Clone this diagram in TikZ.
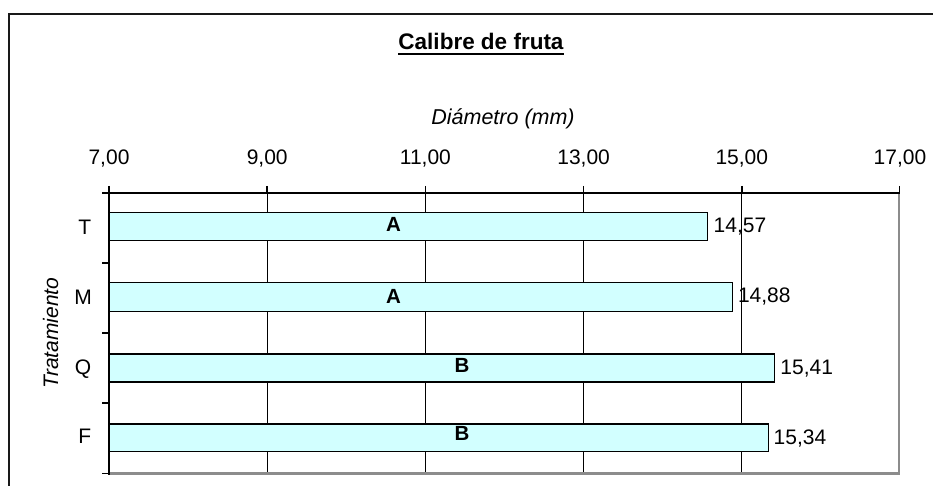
\documentclass[tikz,border=0pt]{standalone}
\usepackage{fontspec}
\setmainfont{Liberation Sans}
\definecolor{barfill}{RGB}{210,255,255}
\definecolor{edgegray}{RGB}{140,140,140}
\begin{document}
\begin{tikzpicture}[x=1pt,y=-1pt,
  lbl/.style={inner sep=0pt, font=\fontsize{21}{21}\selectfont},
  letterlbl/.style={inner sep=0pt, font=\fontsize{20.5}{20.5}\selectfont\bfseries},
  barbox/.style={draw=black, line width=1.3pt, fill=barfill},
  gridline/.style={line width=1.3pt, black},
  axisline/.style={line width=2.4pt, black},
  tickline/.style={line width=1.5pt, black},
  edgeline/.style={line width=2.4pt, edgegray},
  frameline/.style={line width=2.6pt, black!90}]
\useasboundingbox (0,0) rectangle (933,486);
\fill[white] (0,0) rectangle (933,486);
% outer frame
\draw[frameline] (9,486) -- (9,14) -- (933,14);
% title
\node[inner sep=0pt, anchor=base, font=\fontsize{22.5}{22.5}\selectfont\bfseries] (title) at (481,50) {Calibre de fruta};
\draw[line width=2pt] ([yshift=-4.5pt]title.base west) -- ([yshift=-4.5pt]title.base east);
% axis title
\node[inner sep=0pt, anchor=base, font=\fontsize{21.5}{21.5}\selectfont\itshape] (xtitle) at (503,125) {Diámetro (mm)};
\node[inner sep=0pt, anchor=base, rotate=90, font=\fontsize{21}{21}\selectfont\itshape] (ytitle) at (58,333) {Tratamiento};
% gridlines
\foreach \x in {267.2,425.4,583.6,741.8}
  \draw[gridline] (\x,193) -- (\x,473);
% gray edges
\draw[edgeline] (899,193) -- (899,473.5) -- (109,473.5);
% bars
\draw[barbox] (109,212.7) rectangle (707.8,240.7);
\draw[barbox] (109,282.7) rectangle (732.3,311.7);
\draw[barbox] (109,354) rectangle (774.2,382);
\draw[barbox] (109,424) rectangle (768.7,451.7);
% axes
\draw[axisline] (109,193) -- (900,193);
\draw[axisline] (109,192) -- (109,474.5);
\foreach \x in {109,267.2,425.4,583.6,741.8,899.5}
  \draw[tickline] (\x,186) -- (\x,193);
\foreach \y in {193,263,333,403,473.5}
  \draw[tickline] (102,\y) -- (109,\y);
% tick labels
\node[lbl, anchor=base] (t7) at (109,165) {7,00};
\node[lbl, anchor=base] (t9) at (267.2,165) {9,00};
\node[lbl, anchor=base] (t11) at (425.4,165) {11,00};
\node[lbl, anchor=base] (t13) at (583.6,165) {13,00};
\node[lbl, anchor=base] (t15) at (741.8,165) {15,00};
\node[lbl, anchor=base] (t17) at (900,165) {17,00};
% category labels
\node[lbl, anchor=base east] (cT) at (91.5,234) {T};
\node[lbl, anchor=base east] (cM) at (92,304) {M};
\node[lbl, anchor=base east] (cQ) at (91.5,374.5) {Q};
\node[lbl, anchor=base east] (cF) at (91.5,443.5) {F};
% group letters
\node[letterlbl, anchor=base] (gT) at (393.4,231) {A};
\node[letterlbl, anchor=base] (gM) at (393.4,303.3) {A};
\node[letterlbl, anchor=base] (gQ) at (462,372.7) {B};
\node[letterlbl, anchor=base] (gF) at (462,440) {B};
% value labels
\node[lbl, anchor=base west] (vT) at (713.5,232.7) {14,57};
\node[lbl, anchor=base west] (vM) at (737.8,302.7) {14,88};
\node[lbl, anchor=base west] (vQ) at (780.2,374) {15,41};
\node[lbl, anchor=base west] (vF) at (773.5,444) {15,34};
\end{tikzpicture}
\end{document}
